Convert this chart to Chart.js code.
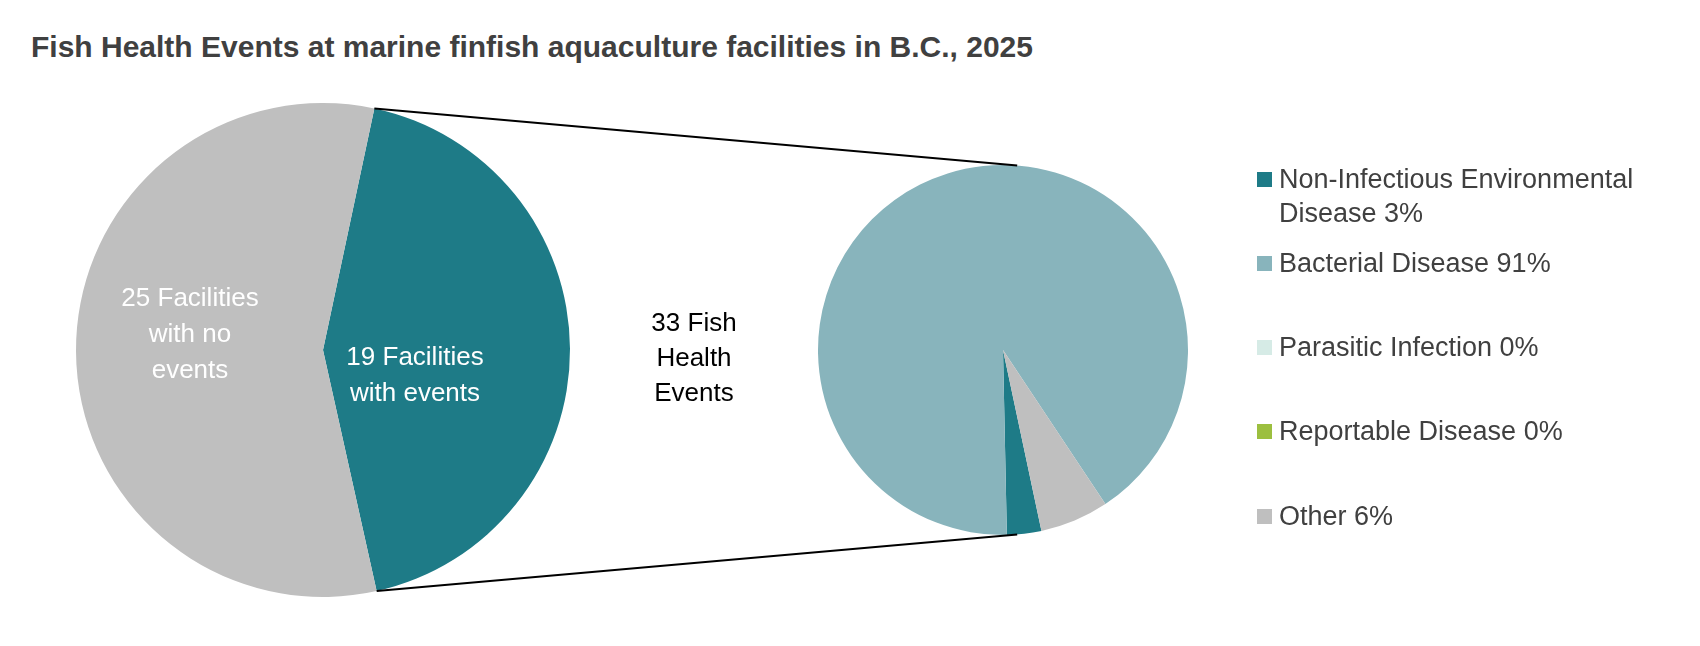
<!DOCTYPE html>
<html><head><meta charset="utf-8">
<script src="https://cdn.jsdelivr.net/npm/chart.js@4"></script>
<style>
body{margin:0;background:#fff;font-family:"Liberation Sans",Arial,sans-serif;}
#wrap{position:relative;width:1700px;height:646px;overflow:hidden;}
#title{position:absolute;left:31px;top:30px;font-weight:bold;font-size:30px;color:#404040;}
canvas{position:absolute;}
.leg{position:absolute;left:1257px;font-size:27px;color:#404040;line-height:34px;}
.leg span.sw{position:absolute;left:0;top:10px;width:15px;height:15px;}
.leg span.tx{display:block;margin-left:22px;}
</style></head><body>
<div id="wrap">
<div id="title">Fish Health Events at marine finfish aquaculture facilities in B.C., 2025</div>
<canvas id="left" width="1700" height="646" style="left:0;top:0"></canvas>
<canvas id="right" width="370" height="370" style="left:818px;top:165px"></canvas>
<canvas id="over" width="1700" height="646" style="left:0;top:0;pointer-events:none"></canvas>
<div id="legend"></div>
</div>
<script>
const facilityCategories = ["19 Facilities with events","25 Facilities with no events"];
const facilityValues = [19, 25];
const eventCategories = ["Non-Infectious Environmental Disease 3%","Bacterial Disease 91%","Parasitic Infection 0%","Reportable Disease 0%","Other 6%"];
const eventValues = [3, 91, 0, 0, 6];
const centerLabel = ["33 Fish","Health","Events"];

const facilityColors = ["#1e7b87","#bfbfbf"];
const eventColors = ["#1e7b87","#88b4bc","#d6ebe6","#9cbf3f","#bfbfbf"];

const labelPlugin = {
  id:'lbl',
  afterDraw(chart){
    const ctx=chart.ctx;
    ctx.save();
    ctx.font='26px "Liberation Sans", Arial';
    ctx.fillStyle='#ffffff';
    ctx.textAlign='center';ctx.textBaseline='middle';
    ["25 Facilities","with no","events"].forEach((t,i)=>ctx.fillText(t,190,299+i*36));
    ["19 Facilities","with events"].forEach((t,i)=>ctx.fillText(t,415,358+i*36));
    ctx.fillStyle='#000000';
    centerLabel.forEach((t,i)=>ctx.fillText(t,694,324+i*35));
    ctx.restore();
  }
};

const left = new Chart(document.getElementById('left'),{
  type:'pie',
  data:{labels:facilityCategories,datasets:[{data:facilityValues,backgroundColor:facilityColors,borderWidth:0}]},
  options:{responsive:false,animation:false,rotation:12,
    layout:{padding:{left:76,top:103,right:1130,bottom:49}},
    plugins:{legend:{display:false},tooltip:{enabled:false}}},
  plugins:[labelPlugin]
});
const right = new Chart(document.getElementById('right'),{
  type:'pie',
  data:{labels:eventCategories,datasets:[{data:eventValues,backgroundColor:eventColors,borderWidth:0}]},
  options:{responsive:false,animation:false,rotation:168,
    plugins:{legend:{display:false},tooltip:{enabled:false}}}
});

// connector lines
const la = left.getDatasetMeta(0).data[0];
const ra = right.getDatasetMeta(0).data[1];
const o = document.getElementById('over').getContext('2d');
const rcx = 818 + ra.x, rcy = 165 + ra.y, rr = ra.outerRadius;
const p1 = [la.x + la.outerRadius*Math.cos(la.startAngle), la.y + la.outerRadius*Math.sin(la.startAngle)];
const p2 = [la.x + la.outerRadius*Math.cos(la.endAngle), la.y + la.outerRadius*Math.sin(la.endAngle)];
const a = 4.4*Math.PI/180;
const q1 = [rcx + rr*Math.sin(a), rcy - rr*Math.cos(a)];
const q2 = [rcx + rr*Math.sin(a), rcy + rr*Math.cos(a)];
o.strokeStyle='#000';o.lineWidth=2;
o.beginPath();o.moveTo(p1[0],p1[1]);o.lineTo(q1[0],q1[1]);o.moveTo(p2[0],p2[1]);o.lineTo(q2[0],q2[1]);o.stroke();

// legend
const tops=[162,246,330,414,499];
const lines=[["Non-Infectious Environmental","Disease 3%"],["Bacterial Disease 91%"],["Parasitic Infection 0%"],["Reportable Disease 0%"],["Other 6%"]];
const lg=document.getElementById('legend');
lines.forEach((l,i)=>{
  const d=document.createElement('div');d.className='leg';d.style.top=tops[i]+'px';
  d.innerHTML='<span class="sw" style="background:'+eventColors[i]+'"></span>'+l.map(t=>'<span class="tx">'+t+'</span>').join('');
  lg.appendChild(d);
});
</script>
</body></html>
